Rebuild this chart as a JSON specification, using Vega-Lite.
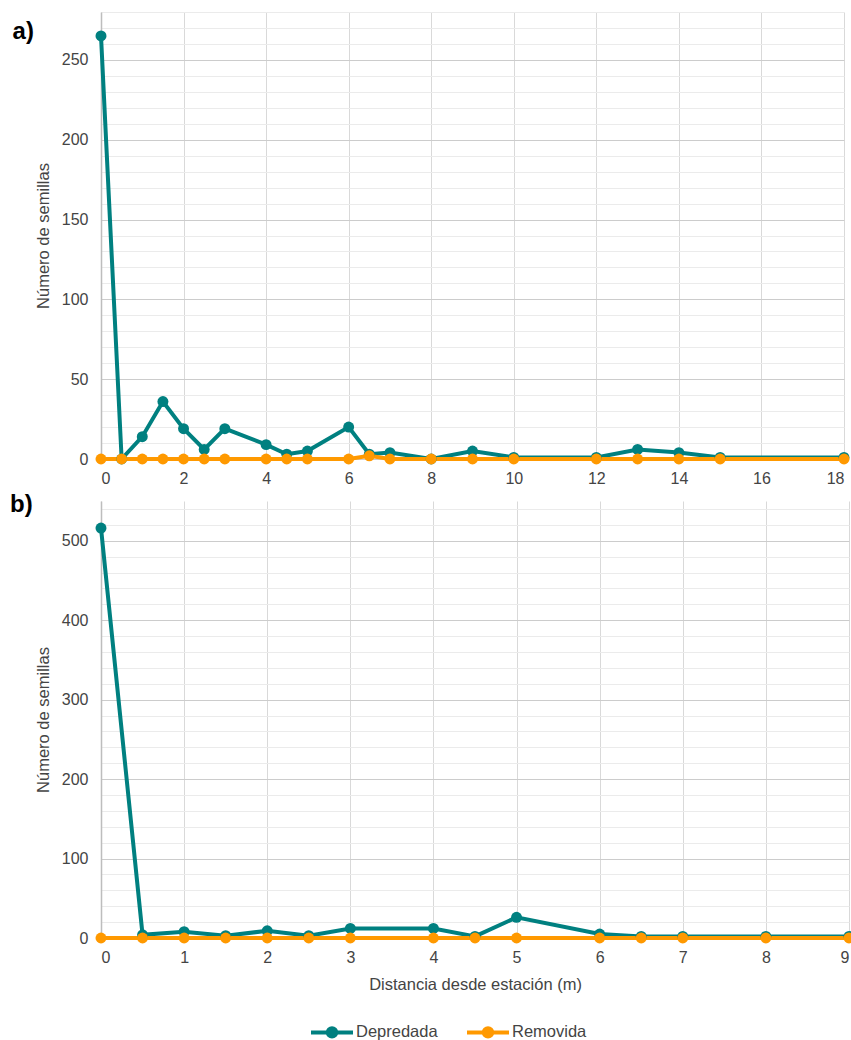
{
  "$schema": "https://vega.github.io/schema/vega-lite/v6.json",
  "padding": {"left": 10, "top": 12, "right": 0, "bottom": 0},
  "background": "white",
  "spacing": 7,
  "datasets": {
    "a": [
      {"distancia": 0, "semillas": 265, "tipo": "Depredada"},
      {"distancia": 0.5, "semillas": 0, "tipo": "Depredada"},
      {"distancia": 1, "semillas": 14, "tipo": "Depredada"},
      {"distancia": 1.5, "semillas": 36, "tipo": "Depredada"},
      {"distancia": 2, "semillas": 19, "tipo": "Depredada"},
      {"distancia": 2.5, "semillas": 6, "tipo": "Depredada"},
      {"distancia": 3, "semillas": 19, "tipo": "Depredada"},
      {"distancia": 4, "semillas": 9, "tipo": "Depredada"},
      {"distancia": 4.5, "semillas": 3, "tipo": "Depredada"},
      {"distancia": 5, "semillas": 5, "tipo": "Depredada"},
      {"distancia": 6, "semillas": 20, "tipo": "Depredada"},
      {"distancia": 6.5, "semillas": 3, "tipo": "Depredada"},
      {"distancia": 7, "semillas": 4, "tipo": "Depredada"},
      {"distancia": 8, "semillas": 0, "tipo": "Depredada"},
      {"distancia": 9, "semillas": 5, "tipo": "Depredada"},
      {"distancia": 10, "semillas": 1, "tipo": "Depredada"},
      {"distancia": 12, "semillas": 1, "tipo": "Depredada"},
      {"distancia": 13, "semillas": 6, "tipo": "Depredada"},
      {"distancia": 14, "semillas": 4, "tipo": "Depredada"},
      {"distancia": 15, "semillas": 1, "tipo": "Depredada"},
      {"distancia": 18, "semillas": 1, "tipo": "Depredada"},
      {"distancia": 0, "semillas": 0, "tipo": "Removida"},
      {"distancia": 0.5, "semillas": 0, "tipo": "Removida"},
      {"distancia": 1, "semillas": 0, "tipo": "Removida"},
      {"distancia": 1.5, "semillas": 0, "tipo": "Removida"},
      {"distancia": 2, "semillas": 0, "tipo": "Removida"},
      {"distancia": 2.5, "semillas": 0, "tipo": "Removida"},
      {"distancia": 3, "semillas": 0, "tipo": "Removida"},
      {"distancia": 4, "semillas": 0, "tipo": "Removida"},
      {"distancia": 4.5, "semillas": 0, "tipo": "Removida"},
      {"distancia": 5, "semillas": 0, "tipo": "Removida"},
      {"distancia": 6, "semillas": 0, "tipo": "Removida"},
      {"distancia": 6.5, "semillas": 2, "tipo": "Removida"},
      {"distancia": 7, "semillas": 0, "tipo": "Removida"},
      {"distancia": 8, "semillas": 0, "tipo": "Removida"},
      {"distancia": 9, "semillas": 0, "tipo": "Removida"},
      {"distancia": 10, "semillas": 0, "tipo": "Removida"},
      {"distancia": 12, "semillas": 0, "tipo": "Removida"},
      {"distancia": 13, "semillas": 0, "tipo": "Removida"},
      {"distancia": 14, "semillas": 0, "tipo": "Removida"},
      {"distancia": 15, "semillas": 0, "tipo": "Removida"},
      {"distancia": 18, "semillas": 0, "tipo": "Removida"}
    ],
    "b": [
      {"distancia": 0, "semillas": 516, "tipo": "Depredada"},
      {"distancia": 0.5, "semillas": 4, "tipo": "Depredada"},
      {"distancia": 1, "semillas": 8, "tipo": "Depredada"},
      {"distancia": 1.5, "semillas": 3, "tipo": "Depredada"},
      {"distancia": 2, "semillas": 9, "tipo": "Depredada"},
      {"distancia": 2.5, "semillas": 3, "tipo": "Depredada"},
      {"distancia": 3, "semillas": 12, "tipo": "Depredada"},
      {"distancia": 4, "semillas": 12, "tipo": "Depredada"},
      {"distancia": 4.5, "semillas": 2, "tipo": "Depredada"},
      {"distancia": 5, "semillas": 26, "tipo": "Depredada"},
      {"distancia": 6, "semillas": 5, "tipo": "Depredada"},
      {"distancia": 6.5, "semillas": 2, "tipo": "Depredada"},
      {"distancia": 7, "semillas": 2, "tipo": "Depredada"},
      {"distancia": 8, "semillas": 2, "tipo": "Depredada"},
      {"distancia": 9, "semillas": 2, "tipo": "Depredada"},
      {"distancia": 0, "semillas": 0, "tipo": "Removida"},
      {"distancia": 0.5, "semillas": 0, "tipo": "Removida"},
      {"distancia": 1, "semillas": 0, "tipo": "Removida"},
      {"distancia": 1.5, "semillas": 0, "tipo": "Removida"},
      {"distancia": 2, "semillas": 0, "tipo": "Removida"},
      {"distancia": 2.5, "semillas": 0, "tipo": "Removida"},
      {"distancia": 3, "semillas": 0, "tipo": "Removida"},
      {"distancia": 4, "semillas": 0, "tipo": "Removida"},
      {"distancia": 4.5, "semillas": 0, "tipo": "Removida"},
      {"distancia": 5, "semillas": 0, "tipo": "Removida"},
      {"distancia": 6, "semillas": 0, "tipo": "Removida"},
      {"distancia": 6.5, "semillas": 0, "tipo": "Removida"},
      {"distancia": 7, "semillas": 0, "tipo": "Removida"},
      {"distancia": 8, "semillas": 0, "tipo": "Removida"},
      {"distancia": 9, "semillas": 0, "tipo": "Removida"}
    ]
  },
  "vconcat": [
    {
      "width": 743,
      "height": 447,
      "title": {"text": "a)", "orient": "left", "anchor": "end", "angle": 0, "align": "right", "baseline": "top", "fontSize": 24, "fontWeight": "bold", "color": "#000000", "offset": 2, "dy": 8, "dx": 22, "frame": "group"},
      "data": {"name": "a"},
      "mark": {"type": "line", "strokeWidth": 4, "point": {"filled": true, "size": 120, "opacity": 1}},
      "encoding": {
        "x": {"field": "distancia", "type": "quantitative", "scale": {"domain": [0, 18], "nice": false},
          "axis": {"values": [0, 2, 4, 6, 8, 10, 12, 14, 16, 18], "title": null}},
        "y": {"field": "semillas", "type": "quantitative", "scale": {"domain": [0, 280], "nice": false},
          "axis": {"values": [0, 10, 20, 30, 40, 50, 60, 70, 80, 90, 100, 110, 120, 130, 140, 150, 160, 170, 180, 190, 200, 210, 220, 230, 240, 250, 260, 270, 280],
            "labelExpr": "datum.value % 50 === 0 ? datum.label : ''",
            "gridColor": {"condition": {"test": "datum.value % 50 === 0", "value": "#cccccc"}, "value": "#ebebeb"},
            "title": "Número de semillas"}},
        "color": {"field": "tipo", "type": "nominal", "title": null,
          "scale": {"domain": ["Depredada", "Removida"], "range": ["#008080", "#ff9900"]},
          "legend": {"orient": "none", "legendX": 208, "legendY": 997, "direction": "horizontal",
            "symbolType": "M-1,0L1,0M-0.2,0A0.2,0.2 0 1,1 0.2,0A0.2,0.2 0 1,1 -0.2,0Z",
            "symbolSize": 1764, "symbolStrokeWidth": 4, "labelFontSize": 16.5, "labelColor": "#444444", "labelFont": "Liberation Sans",
            "labelOffset": 1, "columnPadding": 21,
            "encode": {"symbols": {"update": {"fill": {"scale": "color", "field": "value"}, "stroke": {"scale": "color", "field": "value"}, "opacity": {"value": 1}}}}}}
      }
    },
    {
      "width": 748,
      "height": 437,
      "title": {"text": "b)", "orient": "left", "anchor": "end", "angle": 0, "align": "right", "baseline": "top", "fontSize": 24, "fontWeight": "bold", "color": "#000000", "offset": 2, "dy": -8, "dx": 22, "frame": "group"},
      "data": {"name": "b"},
      "mark": {"type": "line", "strokeWidth": 4, "point": {"filled": true, "size": 120, "opacity": 1}},
      "encoding": {
        "x": {"field": "distancia", "type": "quantitative", "scale": {"domain": [0, 9], "nice": false},
          "axis": {"values": [0, 1, 2, 3, 4, 5, 6, 7, 8, 9], "title": "Distancia desde estación (m)"}},
        "y": {"field": "semillas", "type": "quantitative", "scale": {"domain": [0, 550], "nice": false},
          "axis": {"values": [0, 20, 40, 60, 80, 100, 120, 140, 160, 180, 200, 220, 240, 260, 280, 300, 320, 340, 360, 380, 400, 420, 440, 460, 480, 500, 520, 540],
            "labelExpr": "datum.value % 100 === 0 ? datum.label : ''",
            "gridColor": {"condition": {"test": "datum.value % 100 === 0", "value": "#cccccc"}, "value": "#ebebeb"},
            "title": "Número de semillas"}},
        "color": {"field": "tipo", "type": "nominal", "title": null,
          "scale": {"domain": ["Depredada", "Removida"], "range": ["#008080", "#ff9900"]}}
      }
    }
  ],
  "config": {
    "font": "Liberation Sans",
    "view": {"stroke": null},
    "axis": {
      "labelFont": "Liberation Sans",
      "labelFontSize": 16,
      "labelColor": "#444444",
      "titleFont": "Liberation Sans",
      "titleFontSize": 16.5,
      "titleFontWeight": "normal",
      "titleColor": "#444444",
      "ticks": false,
      "domain": false,
      "gridColor": "#d9d9d9",
      "gridWidth": 1
    },
    "axisY": {"labelPadding": 13, "titlePadding": 10, "domain": true, "domainColor": "#bdbdbd", "domainWidth": 1.5},
    "axisX": {"labelPadding": 11, "titlePadding": 11}
  }
}
